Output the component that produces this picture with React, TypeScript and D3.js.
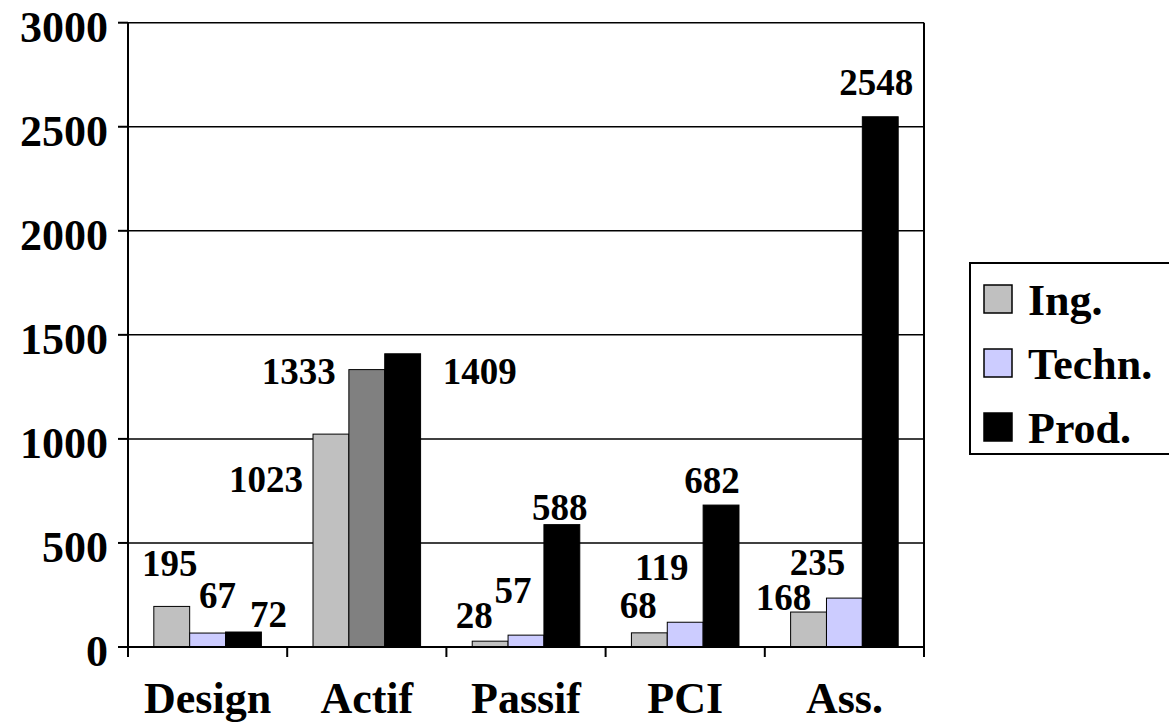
// Externals
import * as d3 from 'd3'
import { FC, useMemo } from 'react'



const WIDTH = 1169
const HEIGHT = 722
const MARGIN = { top: 22.7, right: 245, bottom: 75, left: 128 }
const Y_MAX = 3000
const FONT = '"Liberation Serif", "Times New Roman", serif'

// Data
const CATEGORIES = ['Design', 'Actif', 'Passif', 'PCI', 'Ass.']
const SERIES = ['Ing.', 'Techn.', 'Prod.']
const ING = [195, 1023, 28, 68, 168]
const TECHN = [67, 1333, 57, 119, 235]
const PROD = [72, 1409, 588, 682, 2548]
const Y_TICKS = [0, 500, 1000, 1500, 2000, 2500, 3000]

const SERIES_COLORS = ['#c0c0c0', '#ccccff', '#000000']
// the Techn. bar of Actif is drawn darker in the original
const ACTIF_TECHN_COLOR = '#808080'

// hand-moved data labels: [dx, dy] from bar top centre
const ING_NUDGE = [[-2, -30], [-65, 58], [-16, -13], [-11, -14.5], [-25, -2]]
const TECHN_NUDGE = [[10, -25], [-68, 14], [-13, -32], [-23.5, -42], [-27, -23]]
const PROD_NUDGE = [[25, -5], [77, 30], [-2, -5], [-9, -12], [-4, -22]]



const App: FC = () => {
  const boundsWidth = WIDTH - MARGIN.left - MARGIN.right
  const boundsHeight = HEIGHT - MARGIN.top - MARGIN.bottom

  const seriesValues = [ING, TECHN, PROD]
  const seriesNudges = [ING_NUDGE, TECHN_NUDGE, PROD_NUDGE]

  const xScale = useMemo(() => {
    return d3.scaleBand().domain(CATEGORIES).range([0, boundsWidth]).padding(0)
  }, [boundsWidth])

  const xSubScale = useMemo(() => {
    return d3
      .scaleBand()
      .domain(SERIES)
      .range([0, xScale.bandwidth()])
      .paddingInner(0)
      .paddingOuter(0.72)
  }, [xScale])

  const yScale = useMemo(() => {
    return d3.scaleLinear().domain([0, Y_MAX]).range([boundsHeight, 0])
  }, [boundsHeight])


  const bars = CATEGORIES.map((cat, ci) => {
    return SERIES.map((s, si) => {
      const v = seriesValues[si][ci]
      const x = (xScale(cat) as number) + (xSubScale(s) as number)
      const fill = cat === 'Actif' && s === 'Techn.' ? ACTIF_TECHN_COLOR : SERIES_COLORS[si]
      return (
        <rect
          key={ cat + s }
          x={ x }
          y={ yScale(v) }
          width={ xSubScale.bandwidth() }
          height={ yScale(0) - yScale(v) }
          fill={ fill }
          stroke='#000'
          strokeWidth={ 1 }
        />
      )
    })
  })

  const labels = CATEGORIES.map((cat, ci) => {
    return SERIES.map((s, si) => {
      const v = seriesValues[si][ci]
      const [dx, dy] = seriesNudges[si][ci]
      const cx = (xScale(cat) as number) + (xSubScale(s) as number) + xSubScale.bandwidth() / 2
      return (
        <text
          key={ 'l' + cat + s }
          x={ cx + dx }
          y={ yScale(v) + dy }
          textAnchor='middle'
          fontSize={ 37 }
          fontWeight='bold'
        >
          { v }
        </text>
      )
    })
  })

  const xEdges = d3.range(CATEGORIES.length + 1).map((i) => i * xScale.step())


  return (
    <svg
      width={ WIDTH }
      height={ HEIGHT }
      style={{ position: 'absolute', left: 0, top: 0, background: '#fff' }}
      fontFamily={ FONT }
    >
      <g transform={ `translate(${[MARGIN.left, MARGIN.top].join(',')})` }>
        {/* gridlines */}
        { Y_TICKS.filter((t) => t > 0).map((t) => (
          <line
            key={ 'g' + t }
            x1={ 0 }
            x2={ boundsWidth }
            y1={ yScale(t) }
            y2={ yScale(t) }
            stroke='#000'
            strokeWidth={ 1.5 }
          />
        )) }
        {/* right border */}
        <line x1={ boundsWidth } x2={ boundsWidth } y1={ 0 } y2={ boundsHeight } stroke='#000' strokeWidth={ 2 } />

        { bars }

        {/* y axis */}
        <line x1={ 0 } x2={ 0 } y1={ 0 } y2={ boundsHeight } stroke='#000' strokeWidth={ 2 } />
        { Y_TICKS.map((t) => (
          <g key={ 'y' + t } transform={ `translate(0,${yScale(t)})` }>
            <line x1={ -10 } x2={ 0 } stroke='#000' strokeWidth={ 2 } />
            <text x={ -20 } dy={ 19 } textAnchor='end' fontSize={ 44 } fontWeight='bold'>
              { t }
            </text>
          </g>
        )) }

        {/* x axis */}
        <line x1={ 0 } x2={ boundsWidth } y1={ boundsHeight } y2={ boundsHeight } stroke='#000' strokeWidth={ 2 } />
        { xEdges.map((e, i) => (
          <line key={ 'xt' + i } x1={ e } x2={ e } y1={ boundsHeight } y2={ boundsHeight + 10 } stroke='#000' strokeWidth={ 2 } />
        )) }
        { CATEGORIES.map((cat) => (
          <text
            key={ 'c' + cat }
            x={ (xScale(cat) as number) + xScale.bandwidth() / 2 }
            y={ boundsHeight + 66 }
            textAnchor='middle'
            fontSize={ 44 }
            fontWeight='bold'
          >
            { cat }
          </text>
        )) }

        { labels }
      </g>

      {/* legend */}
      <g transform='translate(970,263)'>
        <rect x={ 0 } y={ 0 } width={ 240 } height={ 191 } fill='#fff' stroke='#000' strokeWidth={ 2 } />
        { SERIES.map((s, i) => (
          <g key={ 'lg' + s } transform={ `translate(0,${36 + i * 64})` }>
            <rect x={ 14 } y={ -14 } width={ 28 } height={ 28 } fill={ SERIES_COLORS[i] } stroke='#000' strokeWidth={ 1.5 } />
            <text x={ 58 } y={ 16 } fontSize={ 44 } fontWeight='bold'>
              { s }
            </text>
          </g>
        )) }
      </g>
    </svg>
  )
}


export default App
